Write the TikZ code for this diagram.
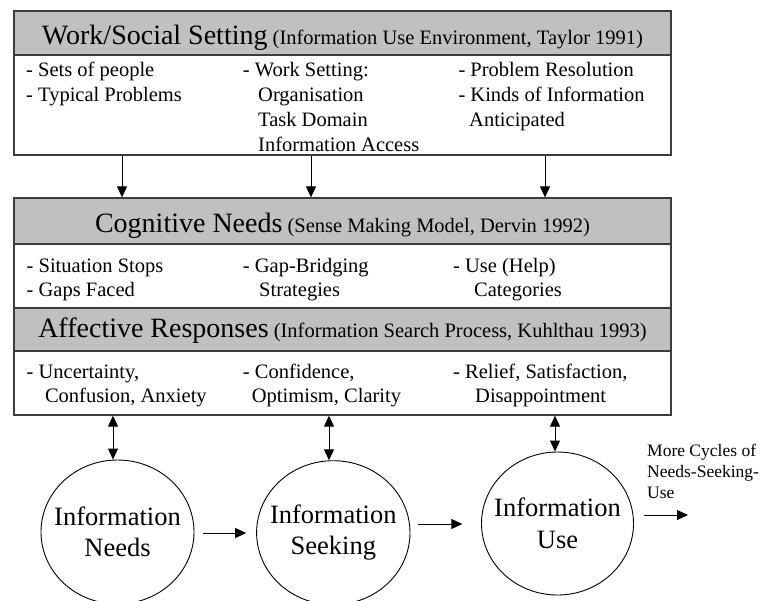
\documentclass[tikz,border=0pt]{standalone}
\usepackage{fontspec}
\setmainfont{Liberation Serif}
\usetikzlibrary{arrows.meta,shapes.geometric}
\definecolor{hdr}{RGB}{192,192,192}
\definecolor{edgec}{RGB}{60,60,60}
\newcommand\hdtitle[2]{{\fontsize{28}{30}\selectfont #1}{\fontsize{20.5}{24}\selectfont\ #2}}
\begin{document}
\begin{tikzpicture}[x=1pt,y=-1pt,
  hbox/.style={draw=edgec, line width=1.3pt, fill=hdr, minimum width=657pt, inner sep=0pt, text height=22.6pt, text depth=0pt},
  bbox/.style={draw=edgec, line width=1.3pt, fill=white, minimum width=657pt, inner sep=0pt},
  body/.style={anchor=north west, inner sep=0pt, align=left, font=\fontsize{20.5}{24}\selectfont},
  arr/.style={draw=black, line width=1pt, -{Triangle[length=11pt,width=10pt]}},
  darr/.style={draw=black, line width=1pt, {Triangle[length=11pt,width=10pt]}-{Triangle[length=11pt,width=10pt]}},
  proc/.style={draw=black, ellipse, line width=0.9pt, inner sep=0pt, minimum width=153pt, minimum height=144pt},
  ptext/.style={align=center, inner sep=0pt, font=\fontsize{26.5}{31.5}\selectfont}
]
\useasboundingbox (0,0) rectangle (762,600);

% boxes
\node[hbox, minimum height=44pt] (h1) at (342.5,33) {\hdtitle{Work/Social Setting}{(Information Use Environment, Taylor 1991)}};
\node[bbox, minimum height=100pt] (b1) at (342.5,105) {};
\node[hbox, minimum height=46pt] (h2) at (342.5,221) {\hdtitle{Cognitive Needs}{(Sense Making Model, Dervin 1992)}};
\node[bbox, minimum height=64pt] (b2) at (342.5,276) {};
\node[hbox, minimum height=43pt, text height=16pt] (h3) at (342.5,329.5) {\hdtitle{Affective Responses}{(Information Search Process, Kuhlthau 1993)}};
\node[bbox, minimum height=64pt] (b3) at (342.5,383) {};

% box texts
\node[body, font=\fontsize{20.5}{25}\selectfont] (w1) at (26,58.5) {\strut- Sets of people\\- Typical Problems};
\node[body, font=\fontsize{20.5}{25}\selectfont] (w2) at (242.7,58.5) {\strut- Work Setting:\\\hspace*{15.3pt}Organisation\\\hspace*{15.3pt}Task Domain\\\hspace*{15.3pt}Information Access};
\node[body, font=\fontsize{20.5}{25}\selectfont] (w3) at (458.3,58.5) {\strut- Problem Resolution\\- Kinds of Information\\\hspace*{10.7pt}Anticipated};

\node[body] (c1) at (26.5,255.8) {\strut- Situation Stops\\- Gaps Faced};
\node[body] (c2) at (242.7,255.8) {\strut- Gap-Bridging\\\hspace*{16.3pt}Strategies};
\node[body] (c3) at (453,255.8) {\strut- Use (Help)\\\hspace*{21pt}Categories};

\node[body] (a1) at (26.5,361.5) {\strut- Uncertainty,\\\hspace*{18.3pt}Confusion, Anxiety};
\node[body] (a2) at (242.7,361.5) {\strut- Confidence,\\\hspace*{9pt}Optimism, Clarity};
\node[body] (a3) at (453,361.5) {\strut- Relief, Satisfaction,\\\hspace*{22pt}Disappointment};

% process ellipses
\node[proc, label={[ptext]center:{Information\\Needs}}] (e1) at (117.5,532) {};
\node[proc, minimum width=153.4pt, label={[ptext]center:{Information\\Seeking}}] (e2) at (333.3,532.7) {};
\node[proc, minimum width=152pt, minimum height=143pt, label={[ptext]center:{Information\\Use}}] (e3) at (557.5,523.5) {};

\node[anchor=north west, inner sep=0pt, align=left, font=\fontsize{17.5}{21}\selectfont] (more) at (647,442) {\strut More Cycles of\\Needs-Seeking-\\Use};

% connectors
\coordinate (x1) at (122,0);
\coordinate (x2) at (311,0);
\coordinate (x3) at (545,0);
\draw[arr] (b1.south -| x1) -- (h2.north -| x1);
\draw[arr] (b1.south -| x2) -- (h2.north -| x2);
\draw[arr] (b1.south -| x3) -- (h2.north -| x3);

\coordinate (y1) at (113,0);
\coordinate (y2) at (329,0);
\coordinate (y3) at (555,0);
\draw[darr] (b3.south -| y1) -- (y1 |- e1.north);
\draw[darr] (b3.south -| y2) -- (y2 |- e2.north);
\draw[darr] (b3.south -| y3) -- (y3 |- e3.north);

\coordinate (m1) at (0,533);
\coordinate (m2) at (0,524);
\coordinate (outend) at (688,515);
\draw[arr, shorten <=8.7pt, shorten >=10pt] (e1.east |- m1) -- (e2.west |- m1);
\draw[arr, shorten <=8pt, shorten >=18.7pt] (e2.east |- m2) -- (e3.west |- m2);
\draw[arr, shorten <=10pt] (e3.east |- outend) -- (outend);
\end{tikzpicture}
\end{document}
